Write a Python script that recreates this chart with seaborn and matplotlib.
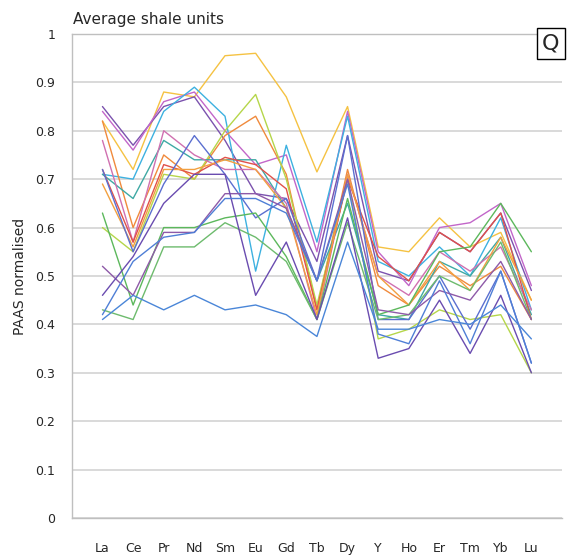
import matplotlib
matplotlib.use("Agg")
import matplotlib.pyplot as plt
from matplotlib.ticker import MultipleLocator
import seaborn as sns
import pandas as pd

elements = ["La", "Ce", "Pr", "Nd", "Sm", "Eu", "Gd", "Tb", "Dy", "Y", "Ho", "Er", "Tm", "Yb", "Lu"]

# PAAS normalised values for each averaged shale unit
s01 = [0.82, 0.72, 0.88, 0.87, 0.955, 0.96, 0.87, 0.715, 0.85, 0.56, 0.55, 0.62, 0.56, 0.59, 0.45]
s02 = [0.85, 0.77, 0.85, 0.87, 0.78, 0.67, 0.66, 0.53, 0.79, 0.51, 0.49, 0.59, 0.55, 0.63, 0.47]
s03 = [0.84, 0.76, 0.86, 0.88, 0.80, 0.73, 0.75, 0.55, 0.84, 0.55, 0.48, 0.60, 0.61, 0.65, 0.48]
s04 = [0.71, 0.70, 0.84, 0.89, 0.83, 0.51, 0.77, 0.57, 0.83, 0.53, 0.50, 0.56, 0.50, 0.62, 0.43]
s05 = [0.82, 0.60, 0.75, 0.70, 0.79, 0.83, 0.71, 0.43, 0.72, 0.48, 0.44, 0.52, 0.48, 0.52, 0.41]
s06 = [0.60, 0.55, 0.71, 0.70, 0.80, 0.875, 0.70, 0.44, 0.70, 0.37, 0.39, 0.43, 0.41, 0.42, 0.30]
s07 = [0.71, 0.66, 0.78, 0.74, 0.74, 0.74, 0.64, 0.49, 0.65, 0.42, 0.41, 0.53, 0.50, 0.58, 0.42]
s08 = [0.78, 0.57, 0.80, 0.75, 0.72, 0.72, 0.65, 0.41, 0.71, 0.50, 0.46, 0.55, 0.51, 0.56, 0.43]
s09 = [0.72, 0.57, 0.73, 0.71, 0.745, 0.73, 0.68, 0.43, 0.70, 0.54, 0.49, 0.59, 0.55, 0.63, 0.41]
s10 = [0.69, 0.56, 0.72, 0.72, 0.74, 0.72, 0.64, 0.42, 0.71, 0.50, 0.44, 0.53, 0.47, 0.58, 0.45]
s11 = [0.72, 0.55, 0.69, 0.79, 0.71, 0.62, 0.66, 0.49, 0.79, 0.41, 0.41, 0.50, 0.39, 0.51, 0.32]
s12 = [0.63, 0.44, 0.60, 0.60, 0.62, 0.63, 0.54, 0.41, 0.66, 0.42, 0.44, 0.55, 0.56, 0.65, 0.55]
s13 = [0.43, 0.41, 0.56, 0.56, 0.61, 0.58, 0.53, 0.41, 0.61, 0.41, 0.42, 0.50, 0.47, 0.57, 0.41]
s14 = [0.52, 0.46, 0.59, 0.59, 0.67, 0.67, 0.64, 0.49, 0.70, 0.43, 0.42, 0.47, 0.45, 0.53, 0.41]
s15 = [0.46, 0.54, 0.65, 0.71, 0.71, 0.46, 0.57, 0.41, 0.62, 0.33, 0.35, 0.45, 0.34, 0.46, 0.30]
s16 = [0.41, 0.46, 0.43, 0.46, 0.43, 0.44, 0.42, 0.375, 0.57, 0.39, 0.39, 0.41, 0.40, 0.44, 0.37]
s17 = [0.42, 0.53, 0.58, 0.59, 0.66, 0.66, 0.63, 0.49, 0.69, 0.38, 0.36, 0.49, 0.36, 0.51, 0.32]

series = [s01, s02, s03, s04, s05, s06, s07, s08, s09, s10, s11, s12, s13, s14, s15, s16, s17]
colors = ["#F5C242", "#7B52AE", "#C266C9", "#3DB1E0", "#F08A3C", "#B5D64A", "#3FA9A4",
          "#D070B0", "#E0514A", "#F2A040", "#5B6FD0", "#5CB85C", "#6DBB6D", "#8E5AA8",
          "#6A4CB0", "#4A86D8", "#4F7FD6"]

rows = []
for k, vals in enumerate(series):
    for i, v in enumerate(vals):
        rows.append({"unit": f"U{k + 1}", "pos": i, "value": v})
df = pd.DataFrame(rows)

sns.set_style("white")
plt.rcParams["font.family"] = ["DejaVu Sans"]

fig = plt.figure(figsize=(5.7, 5.58), dpi=100)
ax = fig.add_axes([0.126, 0.0717, 0.86, 0.8675])

# grid first so lines sit on top
ax.set_ylim(0, 1)
ax.set_xlim(-1, 15)
ax.yaxis.set_major_locator(MultipleLocator(0.1))
ax.yaxis.set_minor_locator(MultipleLocator(0.05))
ax.grid(axis="y", which="major", color="#d9d9d9", linewidth=1.4)
ax.set_axisbelow(True)

sns.lineplot(data=df, x="pos", y="value", hue="unit", palette=colors,
             linewidth=1.0, legend=False, sort=False, ax=ax)

ax.set_xticks(range(len(elements)))
ax.set_xticklabels(elements, fontsize=9)
ax.set_yticks([0, 0.1, 0.2, 0.3, 0.4, 0.5, 0.6, 0.7, 0.8, 0.9, 1.0])
ax.set_yticklabels(["0", "0.1", "0.2", "0.3", "0.4", "0.5", "0.6", "0.7", "0.8", "0.9", "1"], fontsize=9)
ax.tick_params(axis="x", direction="out", length=6, width=0.8, color="#bfbfbf", pad=11)
ax.tick_params(axis="y", which="major", length=0, pad=12)
ax.tick_params(axis="y", which="minor", direction="in", length=3, width=0.8, color="#bfbfbf")

ax.set_xlabel("")
ax.set_ylabel("PAAS normalised", fontsize=10, labelpad=6)

for side in ["right"]:
    ax.spines[side].set_visible(False)
for side in ["left", "bottom", "top"]:
    ax.spines[side].set_color("#bfbfbf")
    ax.spines[side].set_linewidth(1.0)

fig.text(0.128, 0.965, "Average shale units", fontsize=11, ha="left", va="center")
ax.text(0.995, 1.0, "Q", transform=ax.transAxes, fontsize=16, ha="right", va="top",
        bbox=dict(boxstyle="square,pad=0.25", facecolor="white", edgecolor="black", linewidth=1.0))

fig.savefig("out.png", dpi=100)
